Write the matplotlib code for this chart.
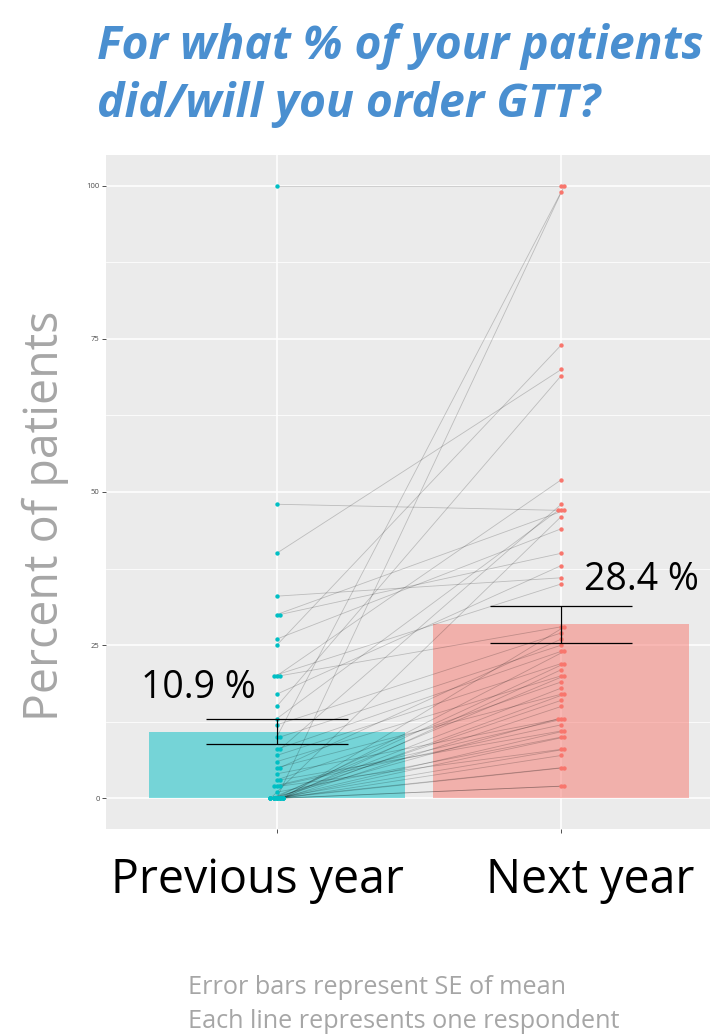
import numpy as np
import matplotlib.pyplot as plt

plt.rcParams.update({
    'font.family': ['Open Sans', 'DejaVu Sans'],
})

# per-respondent answers (percent of patients), previous year -> next year
prev_year = [100, 48, 40, 33, 30, 30, 26, 25, 20, 20, 20, 17, 15, 13, 12,
             10, 10, 8, 8, 7, 6, 5, 5, 4, 3, 3, 2, 2, 2, 1,
             0, 0, 0, 0, 0, 0, 0, 0, 0, 0, 0, 0, 0, 0, 0, 0, 0, 0, 0, 0]
next_year = [100, 47, 70, 36, 47, 40, 44, 74, 52, 28, 35, 38, 69, 47, 27,
             99, 25, 24, 48, 22, 20, 17, 26, 13, 19, 11, 12, 8, 13, 10,
             100, 24, 22, 21, 20, 18, 17, 16, 15, 13, 11, 10, 8, 7, 5, 5, 2, 2, 28, 46]

groups = ['Previous year', 'Next year']
means = [10.9, 28.4]
se = [2.05, 3.05]
mean_labels = ['10.9 %', '28.4 %']

cyan = '#00BFC4'
salmon = '#F8766D'

W, H = 710, 1035
fig = plt.figure(figsize=(W / 100, H / 100), dpi=100)
pl, pr, pt, pb = 106, 732, 155, 829
ax = fig.add_axes([pl / W, 1 - pb / H, (pr - pl) / W, (pb - pt) / H])
ax.set_facecolor('#EBEBEB')
for s in ax.spines.values():
    s.set_visible(False)

ax.set_xlim(0.4, 2.6)
ax.set_ylim(-5, 105)
ax.set_yticks([0, 25, 50, 75, 100])
ax.set_yticks([12.5, 37.5, 62.5, 87.5], minor=True)
ax.set_xticks([1, 2])
ax.set_xticklabels(['', ''])
ax.grid(True, which='major', color='white', lw=1.1)
ax.grid(True, which='minor', axis='y', color='white', lw=0.55)
ax.set_axisbelow(True)
ax.tick_params(axis='y', which='major', labelsize=5.5, labelcolor='#4D4D4D',
               color='#333333', length=3, width=0.6, pad=1.5)
ax.tick_params(axis='y', which='minor', length=0)
ax.tick_params(axis='x', color='#333333', length=3, width=0.6)

# bars with group means
ax.bar([1, 2], means, width=0.9, color=[cyan, salmon], alpha=0.5, zorder=1)


def spread(vals):
    # nudge points that share a value a little sideways so they stay visible
    offs = np.zeros(len(vals))
    seen = {}
    for i, v in enumerate(vals):
        k = seen.get(v, 0)
        j = k % 5
        offs[i] = ((j + 1) // 2) * 0.011 * (1 if j % 2 else -1)
        seen[v] = k + 1
    return offs


x1 = 1 + spread(prev_year)
x2 = 2 + spread(next_year)
for a, b, ya, yb in zip(x1, x2, prev_year, next_year):
    ax.plot([a, b], [ya, yb], color='black', alpha=0.2, lw=0.6, zorder=2)
ax.scatter(x1, prev_year, s=10, color=cyan, zorder=3, linewidths=0)
ax.scatter(x2, next_year, s=10, color=salmon, zorder=3, linewidths=0)

ax.errorbar([1, 2], means, yerr=se, fmt='none', ecolor='black', elinewidth=0.9,
            capsize=0, zorder=4)
for xi, m, e in zip([1, 2], means, se):
    ax.hlines([m - e, m + e], xi - 0.25, xi + 0.25, color='black', lw=0.9, zorder=4)

ax.text(0.723, 18.0, mean_labels[0], ha='center', va='center', fontsize=27, color='black')
ax.text(2.28, 35.7, mean_labels[1], ha='center', va='center', fontsize=27, color='black')

# annotations around the panel
title_kw = dict(fontsize=33.3, fontweight='bold', style='italic', color='#4A8FD0',
                va='center', ha='left')
fig.text(97 / W, 1 - 47 / H, 'For what % of your patients', **title_kw)
fig.text(97 / W, 1 - 105 / H, 'did/will you order GTT?', **title_kw)
fig.text(45 / W, 1 - 516 / H, 'Percent of patients', rotation=90, fontsize=33.5,
         color='#A6A6A6', ha='center', va='center')
fig.text(257 / W, 1 - 880 / H, groups[0], fontsize=33.5, ha='center', va='center')
fig.text(590 / W, 1 - 880 / H, groups[1], fontsize=33.5, ha='center', va='center')
fig.text(188 / W, 1 - 988 / H, 'Error bars represent SE of mean', fontsize=18.2,
         color='#A6A6A6', ha='left', va='center')
fig.text(188 / W, 1 - 1021 / H, 'Each line represents one respondent', fontsize=18.2,
         color='#A6A6A6', ha='left', va='center')

fig.savefig('out.png', dpi=100)
